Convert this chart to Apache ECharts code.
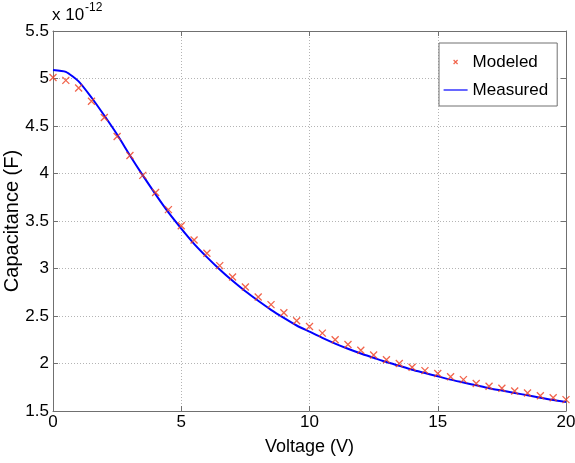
<!DOCTYPE html>
<html>
<head>
<meta charset="utf-8">
<script src="https://cdn.jsdelivr.net/npm/echarts@6/dist/echarts.min.js"></script>
<style>
html, body { margin: 0; padding: 0; background: #fff; }
#capChart { width: 575px; height: 463px; }
</style>
</head>
<body>
<div id="capChart"></div>
<script>
//data, capacitance in units of 1e-12 F
var voltage = [0, 0.5, 1, 1.5, 2, 2.5, 3, 3.5, 4, 4.5, 5, 5.5, 6, 6.5, 7, 7.5, 8, 8.5, 9, 9.5, 10,
	10.5, 11, 11.5, 12, 12.5, 13, 13.5, 14, 14.5, 15, 15.5, 16, 16.5, 17, 17.5, 18, 18.5, 19, 19.5, 20];
var modeled = [5.01, 4.98, 4.90, 4.76, 4.59, 4.39, 4.19, 3.98, 3.80, 3.62, 3.45, 3.30, 3.16, 3.03, 2.91, 2.805, 2.70, 2.62, 2.535, 2.45, 2.39,
	2.32, 2.25, 2.20, 2.14, 2.09, 2.04, 2.00, 1.96, 1.925, 1.895, 1.86, 1.83, 1.79, 1.76, 1.74, 1.71, 1.69, 1.66, 1.64, 1.62];
var measured = [5.09, 5.07, 4.97, 4.80, 4.61, 4.41, 4.19, 3.98, 3.78, 3.59, 3.42, 3.26, 3.12, 2.99, 2.87, 2.76, 2.66, 2.565, 2.48, 2.40, 2.335,
	2.27, 2.21, 2.155, 2.105, 2.06, 2.015, 1.975, 1.935, 1.90, 1.865, 1.83, 1.80, 1.77, 1.74, 1.715, 1.69, 1.665, 1.64, 1.615, 1.595];
var seriesNames = ['Modeled', 'Measured'];
var xTitle = 'Voltage (V)';
var yTitle = 'Capacitance (F)';
var expBase = 'x 10';
var expPower = '-12';

var FONT = "'Liberation Sans', Arial, sans-serif";
var FRAME = '#707070';
var RED = '#ee3d1f';
var BLUE = '#0000ff';
var xMark = 'path://M0,0L10,10M10,0L0,10';

function pairs(xs, ys) {
	var res = [];
	for (var i = 0; i < xs.length; i++) {
		res.push([xs[i], ys[i]]);
	}
	return res;
}

var chart = echarts.init(document.getElementById('capChart'), null, {renderer: 'canvas'});

var frameAxis = {
	axisLine: {show: true, onZero: false, lineStyle: {color: FRAME, width: 1}},
	axisTick: {show: true, inside: true, length: 5, lineStyle: {color: FRAME}},
	axisLabel: {show: false},
	splitLine: {show: false}
};

var option = {
	animation: false,
	backgroundColor: '#fff',
	grid: {left: 53, right: 9, top: 31, bottom: 52, containLabel: false, outerBoundsMode: 'none'},
	legend: {
		orient: 'vertical',
		left: 439,
		top: 43,
		padding: [9, 9, 6, 4],
		itemWidth: 24,
		itemHeight: 14,
		itemGap: 8,
		backgroundColor: '#fff',
		borderColor: FRAME,
		borderWidth: 1,
		borderRadius: 0,
		textStyle: {fontFamily: FONT, fontSize: 17, color: '#000', lineHeight: 20},
		data: [
			{name: seriesNames[0], icon: 'path://M0,0M24,14M10,5L14,9M14,5L10,9',
				itemStyle: {color: 'transparent', borderColor: RED, borderWidth: 1.2}},
			{name: seriesNames[1], icon: 'path://M0,0M24,14M0,6.4L24,6.4L24,7.6L0,7.6Z',
				itemStyle: {color: BLUE, borderWidth: 0}}
		]
	},
	graphic: [
		{type: 'text', left: 52, top: 7, style: {text: expBase, font: '17px ' + FONT, fill: '#000'}},
		{type: 'text', left: 85, top: 2, style: {text: expPower, font: '12px ' + FONT, fill: '#000'}}
	],
	xAxis: [
		{
			type: 'value', min: 0, max: 20, interval: 5,
			name: xTitle, nameLocation: 'middle', nameGap: 27, nameMoveOverlap: false,
			nameTextStyle: {fontFamily: FONT, fontSize: 18, color: '#000'},
			axisLine: {show: true, onZero: false, lineStyle: {color: FRAME, width: 1}},
			axisTick: {show: true, inside: true, length: 5, lineStyle: {color: FRAME}},
			axisLabel: {fontFamily: FONT, fontSize: 17, color: '#000', margin: 3},
			splitLine: {show: true, lineStyle: {color: '#b4b4b4', type: [1, 2], width: 1}}
		},
		echarts.util.extend({type: 'value', position: 'top', min: 0, max: 20, interval: 5}, frameAxis)
	],
	yAxis: [
		{
			type: 'value', min: 1.5, max: 5.5, interval: 0.5,
			name: yTitle, nameLocation: 'middle', nameGap: 31, nameRotate: 90, nameMoveOverlap: false,
			nameTextStyle: {fontFamily: FONT, fontSize: 20, color: '#000'},
			axisLine: {show: true, onZero: false, lineStyle: {color: FRAME, width: 1}},
			axisTick: {show: true, inside: true, length: 5, lineStyle: {color: FRAME}},
			axisLabel: {fontFamily: FONT, fontSize: 17, color: '#000', margin: 4},
			splitLine: {show: true, lineStyle: {color: '#b4b4b4', type: [1, 2], width: 1}}
		},
		echarts.util.extend({type: 'value', position: 'right', min: 1.5, max: 5.5, interval: 0.5}, frameAxis)
	],
	series: [
		{
			name: seriesNames[1],
			type: 'line',
			data: pairs(voltage, measured),
			symbol: 'none',
			smooth: 0.2,
			lineStyle: {color: BLUE, width: 2},
			itemStyle: {color: BLUE},
			z: 2
		},
		{
			name: seriesNames[0],
			type: 'scatter',
			data: pairs(voltage, modeled),
			symbol: xMark,
			symbolSize: 7,
			itemStyle: {color: 'transparent', borderColor: RED, borderWidth: 1.3},
			z: 3
		}
	]
};

chart.setOption(option);
</script>
</body>
</html>
